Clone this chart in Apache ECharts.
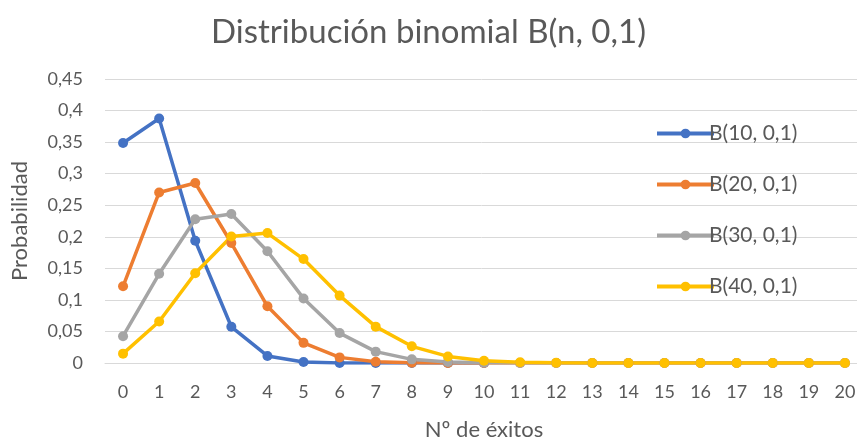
<!DOCTYPE html>
<html><head><meta charset="utf-8">
<script src="https://cdn.jsdelivr.net/npm/echarts@6/dist/echarts.min.js"></script>
<style>html,body{margin:0;padding:0;background:#fff}#c{width:857px;height:439px}</style>
</head><body><div id="c"></div>
<script>
const categories = ["0","1","2","3","4","5","6","7","8","9","10","11","12","13","14","15","16","17","18","19","20"];
const b10 = [0.3487,0.3874,0.1937,0.0574,0.0112,0.0015,0.0001,0.0000,0.0000,0.0000,0.0000];
const b20 = [0.1216,0.2702,0.2852,0.1901,0.0898,0.0319,0.0089,0.0020,0.0004,0.0001,0.0000,0,0,0,0,0,0,0,0,0,0];
const b30 = [0.0424,0.1413,0.2277,0.2361,0.1771,0.1023,0.0474,0.0180,0.0058,0.0016,0.0004,0.0001,0,0,0,0,0,0,0,0,0];
const b40 = [0.0148,0.0657,0.1423,0.2003,0.2059,0.1647,0.1068,0.0576,0.0264,0.0104,0.0036,0.0011,0.0003,0.0001,0,0,0,0,0,0,0];
const seriesNames = ["B(10, 0,1)","B(20, 0,1)","B(30, 0,1)","B(40, 0,1)"];
const colors = ["#4472C4","#ED7D31","#A5A5A5","#FFC000"];
const FONT = "Lato";
const TXT = '#595959';
const chart = echarts.init(document.getElementById('c'));
const mk = (name, data, color) => ({
  name, type: 'line', data, color,
  symbol: 'circle', symbolSize: 10,
  lineStyle: {width: 3.5, color},
  itemStyle: {color},
  animation: false
});
chart.setOption({
  animation: false,
  textStyle: {fontFamily: FONT},
  title: {
    text: "Distribución binomial B(n, 0,1)", left: 'center', top: 11,
    textStyle: {fontFamily: FONT, fontSize: 33, fontWeight: 'normal', color: TXT}
  },
  legend: {
    orient: 'vertical', left: 650, top: 118, itemWidth: 57, itemHeight: 12, itemGap: 30,
    lineStyle: {width: 4},
    textStyle: {fontFamily: FONT, fontSize: 21, lineHeight: 21, color: TXT, padding: [0,0,0,-10]},
    data: seriesNames
  },
  grid: {left: 105, top: 79, width: 758, height: 284, containLabel: false, outerBoundsMode: 'none'},
  xAxis: {
    type: 'category', data: categories, boundaryGap: true,
    name: "Nº de éxitos", nameLocation: 'middle', nameGap: 56,
    nameTextStyle: {fontFamily: FONT, fontSize: 22, color: TXT},
    axisLine: {show: true, lineStyle: {color: '#D9D9D9'}},
    axisTick: {show: false},
    axisLabel: {fontFamily: FONT, fontSize: 18, color: TXT, margin: 20, interval: 0}
  },
  yAxis: {
    type: 'value', min: 0, max: 0.45, interval: 0.05,
    name: "Probabilidad", nameLocation: 'middle', nameGap: 74, nameRotate: 90,
    nameTextStyle: {fontFamily: FONT, fontSize: 22, color: TXT},
    axisLine: {show: false}, axisTick: {show: false},
    splitLine: {lineStyle: {color: '#D9D9D9', width: 1}},
    axisLabel: {fontFamily: FONT, fontSize: 18, color: TXT, margin: 22,
      formatter: v => (Math.round(v*100)/100).toString().replace('.', ',')}
  },
  series: [mk(seriesNames[0], b10, colors[0]), mk(seriesNames[1], b20, colors[1]),
           mk(seriesNames[2], b30, colors[2]), mk(seriesNames[3], b40, colors[3])]
});
</script></body></html>
